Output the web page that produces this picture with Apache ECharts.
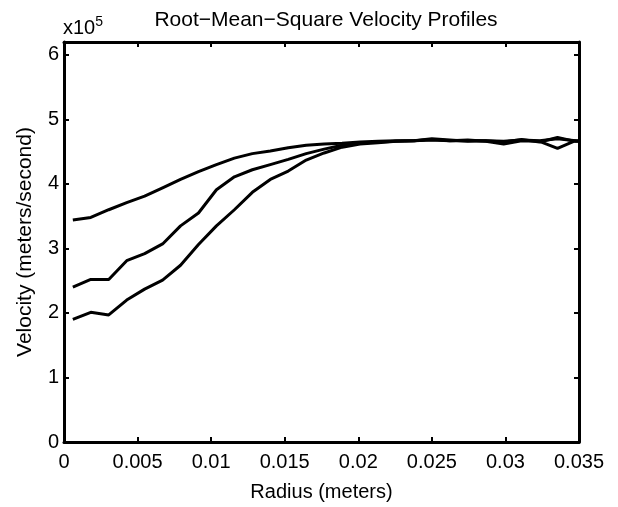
<!DOCTYPE html>
<html>
<head>
<meta charset="utf-8">
<script src="https://cdn.jsdelivr.net/npm/echarts@6/dist/echarts.min.js"></script>
<style>
	html, body { margin: 0; padding: 0; background: #fff; }
	#chart { width: 618px; height: 507px; }
</style>
</head>
<body>
<div id="chart"></div>
<script>
// radius sample points (meters)
var radius = [];
for (var k = 0; k < 30; k++) {
	radius.push(+(0.0006 + 0.00122 * k).toFixed(5));
}
// velocity, in units of 1e5 m/s
var profileTop = [3.44, 3.48, 3.60, 3.71, 3.81, 3.94, 4.07, 4.19, 4.30, 4.40,
	4.47, 4.51, 4.56, 4.60, 4.62, 4.63, 4.65, 4.66, 4.67, 4.67,
	4.69, 4.67, 4.67, 4.67, 4.66, 4.68, 4.67, 4.70, 4.67, 4.66];
var profileMid = [2.40, 2.52, 2.52, 2.81, 2.92, 3.07, 3.35, 3.55, 3.91, 4.11,
	4.22, 4.30, 4.38, 4.47, 4.54, 4.60, 4.63, 4.65, 4.66, 4.67,
	4.68, 4.67, 4.68, 4.66, 4.62, 4.67, 4.66, 4.55, 4.67, 4.66];
var profileLow = [1.90, 2.01, 1.97, 2.20, 2.37, 2.51, 2.74, 3.06, 3.35, 3.60,
	3.87, 4.07, 4.20, 4.37, 4.48, 4.57, 4.62, 4.64, 4.66, 4.67,
	4.70, 4.68, 4.66, 4.67, 4.65, 4.69, 4.65, 4.72, 4.66, 4.67];
var xTicks = [0, 0.005, 0.01, 0.015, 0.02, 0.025, 0.03, 0.035];
var yTicks = [0, 1, 2, 3, 4, 5, 6];

function pairs(ys) {
	return ys.map(function(v, i) { return [radius[i], v]; });
}

var font = '"Liberation Sans", Arial, Helvetica, sans-serif';
var chart = echarts.init(document.getElementById('chart'));

var tickIn = { show: true, inside: true, length: 5, lineStyle: { color: '#000', width: 2 } };
var lineBlack = { show: true, onZero: false, lineStyle: { color: '#000', width: 3 } };

function lineSeries(ys) {
	return {
		type: 'line',
		data: pairs(ys),
		symbol: 'none',
		clip: true,
		lineStyle: { color: '#000', width: 3 },
		silent: true
	};
}

chart.setOption({
	animation: false,
	backgroundColor: '#fff',
	title: {
		text: 'Root\u2212Mean\u2212Square Velocity Profiles',
		left: 321, top: 5,
		textAlign: 'center',
		textStyle: { fontFamily: font, fontSize: 21, fontWeight: 'normal', color: '#000' }
	},
	grid: { left: 64, top: 42, right: 39, bottom: 58, containLabel: false },
	xAxis: [{
		type: 'value', min: 0, max: 0.035, interval: 0.005,
		position: 'bottom',
		name: 'Radius (meters)', nameLocation: 'middle', nameGap: 40,
		nameTextStyle: { fontFamily: font, fontSize: 20, color: '#000' },
		axisLine: lineBlack, axisTick: tickIn, splitLine: { show: false },
		axisLabel: {
			fontFamily: font, fontSize: 20, color: '#000', margin: 10,
			formatter: function(v) {
				for (var i = 0; i < xTicks.length; i++) {
					if (Math.abs(v - xTicks[i]) < 1e-9) return String(xTicks[i]);
				}
				return '';
			}
		}
	}, {
		type: 'value', min: 0, max: 0.035, interval: 0.005,
		position: 'top',
		axisLine: lineBlack, axisTick: tickIn, splitLine: { show: false },
		axisLabel: { show: false }
	}],
	yAxis: [{
		type: 'value', min: 0, max: 6.2, interval: 1,
		position: 'left',
		name: 'Velocity (meters/second)', nameLocation: 'middle', nameGap: 28,
		nameTextStyle: { fontFamily: font, fontSize: 21, color: '#000' },
		axisLine: lineBlack, axisTick: tickIn, splitLine: { show: false },
		axisLabel: {
			fontFamily: font, fontSize: 20, color: '#000', margin: 5,
			formatter: function(v) {
				return yTicks.indexOf(v) >= 0 ? String(v) : '';
			}
		}
	}, {
		type: 'value', min: 0, max: 6.2, interval: 1,
		position: 'right',
		axisLine: lineBlack, axisTick: tickIn, splitLine: { show: false },
		axisLabel: { show: false }
	}],
	graphic: [{
		type: 'text',
		left: 63, top: 15,
		style: {
			text: 'x10{sup|5}',
			font: '20px ' + font,
			fill: '#000',
			rich: { sup: { fontSize: 14, verticalAlign: 'top', padding: [0, 0, 12, 0], fontFamily: font } }
		}
	}],
	series: [lineSeries(profileTop), lineSeries(profileMid), lineSeries(profileLow)]
});
</script>
</body>
</html>
